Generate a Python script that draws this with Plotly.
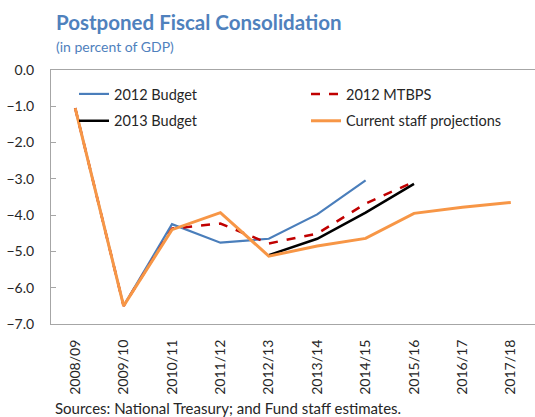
import plotly.graph_objects as go

categories = ["2008/09", "2009/10", "2010/11", "2011/12", "2012/13",
              "2013/14", "2014/15", "2015/16", "2016/17", "2017/18"]
budget_2012 = [-1.05, -6.5, -4.25, -4.76, -4.65, -3.98, -3.04, None, None, None]
mtbps_2012 = [-1.05, -6.5, -4.37, -4.23, -4.78, -4.51, -3.68, -3.08, None, None]
budget_2013 = [None, None, None, None, -5.1, -4.65, -3.93, -3.14, None, None]
staff_proj = [-1.05, -6.5, -4.4, -3.93, -5.13, -4.85, -4.64, -3.95, -3.78, -3.65]

FONT = "Lato"
TXT = "#262626"
BLUE_T = "#4F81BD"

W, H = 535, 417
L, R, T, B = 51, 0, 70, 93
pw = W - L - R
ph = H - T - B

def px_x(p):
    return (p - L) / pw

def px_y(p):
    return (H - B - p) / ph

fig = go.Figure()
fig.add_trace(go.Scatter(x=categories, y=budget_2012, name="2012 Budget", mode="lines",
                         line=dict(color="#4A7EBB", width=2.2), legend="legend",
                         legendgroup="a"))
fig.add_trace(go.Scatter(x=categories, y=mtbps_2012, name="2012 MTBPS", mode="lines",
                         line=dict(color="#C00000", width=2.5, dash="dash"), legend="legend2",
                         legendgroup="b"))
fig.add_trace(go.Scatter(x=categories, y=budget_2013, name="2013 Budget", mode="lines",
                         line=dict(color="#000000", width=2.5), legend="legend",
                         legendgroup="c"))
fig.add_trace(go.Scatter(x=categories, y=staff_proj, name="Current staff projections", mode="lines",
                         line=dict(color="#F79646", width=3), legend="legend2",
                         legendgroup="d"))

legend_common = dict(font=dict(family=FONT, size=14.5, color=TXT), bgcolor="rgba(0,0,0,0)",
                     xanchor="left", yanchor="top", tracegroupgap=5, traceorder="grouped",
                     itemwidth=30)

fig.update_layout(
    width=W, height=H,
    margin=dict(l=L, r=R, t=T, b=B),
    paper_bgcolor="white", plot_bgcolor="white",
    font=dict(family=FONT, size=14, color=TXT),
    legend=dict(x=px_x(74), y=px_y(78), **legend_common),
    legend2=dict(x=px_x(306), y=px_y(78), **legend_common),
    xaxis=dict(type="category", range=[-0.5, 9.5], showline=True, linecolor="#A6A6A6",
               linewidth=1.2, mirror=True, ticks="", tickangle=-90,
               tickfont=dict(family=FONT, size=14, color=TXT), showgrid=False,
               ticklabelstandoff=9),
    yaxis=dict(range=[-7, 0], dtick=1, tickformat=".1f", showline=True, linecolor="#A6A6A6",
               linewidth=1.2, ticks="inside", ticklen=5, tickcolor="#A6A6A6", showgrid=False,
               zeroline=False, tickfont=dict(family=FONT, size=14, color=TXT),
               ticklabelstandoff=13),
    annotations=[
        dict(text="<b>Postponed Fiscal Consolidation</b>", xref="paper", yref="paper",
             x=px_x(54), y=px_y(22), xanchor="left", yanchor="middle", showarrow=False,
             font=dict(family=FONT, size=20.5, color=BLUE_T)),
        dict(text="(in percent of GDP)", xref="paper", yref="paper",
             x=px_x(54), y=px_y(47), xanchor="left", yanchor="middle", showarrow=False,
             font=dict(family=FONT, size=14, color=BLUE_T)),
        dict(text="Sources: National Treasury; and Fund staff estimates.", xref="paper",
             yref="paper", x=px_x(53), y=px_y(408), xanchor="left", yanchor="middle",
             showarrow=False, font=dict(family=FONT, size=15, color=TXT)),
    ],
)

fig.write_html("out.html", config={"displayModeBar": False},
               post_script="document.body.style.margin='0';")
